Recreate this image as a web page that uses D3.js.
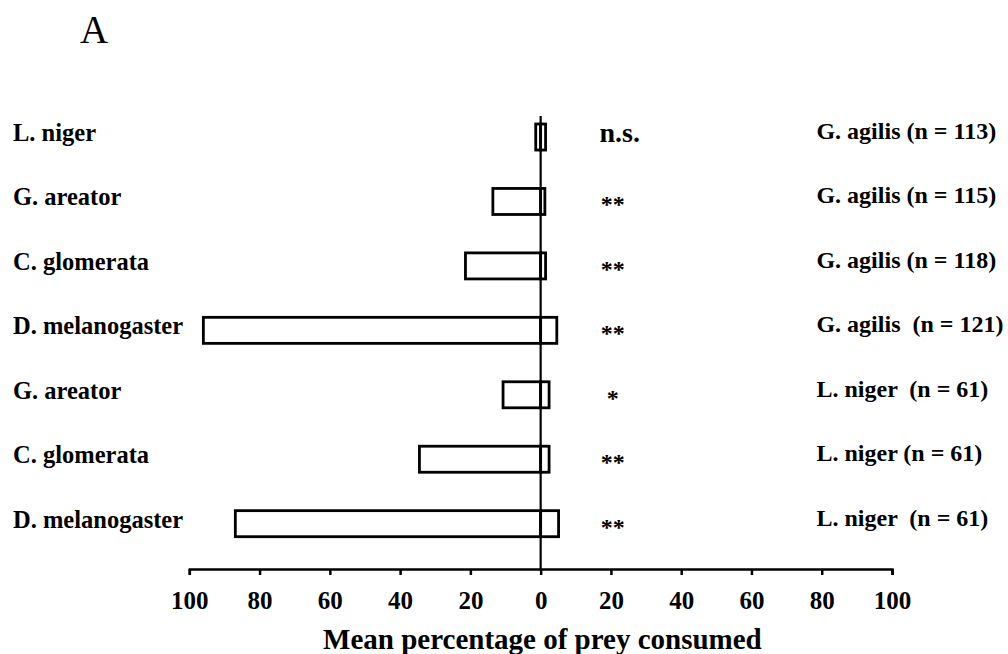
<!DOCTYPE html>
<html>
<head>
<meta charset="utf-8">
<script src="https://cdn.jsdelivr.net/npm/d3@7"></script>
<style>
  body { margin: 0; background: #fff; }
  svg text { font-family: "Liberation Serif", "Times New Roman", serif; fill: #000; }
</style>
</head>
<body>
<svg id="graph"></svg>
<script>
// prey offered (left labels) and predator (right labels), top to bottom
var prey = ["L. niger", "G. areator", "C. glomerata", "D. melanogaster", "G. areator", "C. glomerata", "D. melanogaster"];
var predators = ["G. agilis ", "G. agilis ", "G. agilis ", "G. agilis  ", "L. niger  ", "L. niger ", "L. niger  "];
var sampleSizes = [113, 115, 118, 121, 61, 61, 61];
// mean % consumed, drawn to the left / right of zero
var leftValues = [1.4, 13.6, 21.4, 96.0, 10.7, 34.5, 86.9];
var rightValues = [1.4, 1.2, 1.4, 4.6, 2.4, 2.4, 5.1];
var significance = ["n.s.", "**", "**", "**", "*", "**", "**"];
var tickValues = [-100, -80, -60, -40, -20, 0, 20, 40, 60, 80, 100];

function drawChart() {
    var width = 1008, height = 654;
    var svg = d3.select("#graph")
        .attr("width", width)
        .attr("height", height);

    var x = d3.scaleLinear()
        .domain([-100, 100])
        .range([189.3, 892]);

    var y = d3.scaleBand()
        .domain(d3.range(prey.length))
        .range([104.8, 555.9])
        .paddingInner(0.596)
        .paddingOuter(0.298);

    var axisY = 569;

    // panel letter
    svg.append("text")
        .attr("x", 80)
        .attr("y", 43)
        .attr("font-size", 39)
        .text("A");

    // bars: left part and right part
    var rows = svg.selectAll("g.row")
        .data(d3.range(prey.length))
        .enter()
        .append("g")
        .attr("class", "row");

    rows.append("rect")
        .attr("x", i => x(-leftValues[i]))
        .attr("y", i => y(i))
        .attr("width", i => x(0) - x(-leftValues[i]))
        .attr("height", y.bandwidth())
        .attr("fill", "white")
        .attr("stroke", "black")
        .attr("stroke-width", 2.8);

    rows.append("rect")
        .attr("x", x(0))
        .attr("y", i => y(i))
        .attr("width", i => x(rightValues[i]) - x(0))
        .attr("height", y.bandwidth())
        .attr("fill", "white")
        .attr("stroke", "black")
        .attr("stroke-width", 2.8);

    // central line
    svg.append("line")
        .attr("x1", x(0)).attr("x2", x(0))
        .attr("y1", 116).attr("y2", axisY)
        .attr("stroke", "black")
        .attr("stroke-width", 2.2);

    // left labels (prey)
    rows.append("text")
        .attr("x", 13)
        .attr("y", i => y(i) + y.bandwidth() / 2 + 4)
        .attr("font-size", 24.5)
        .attr("font-weight", "bold")
        .text(i => prey[i]);

    // significance
    rows.append("text")
        .attr("x", i => significance[i] == "n.s." ? x(22.5) : x(20.5))
        .attr("y", i => y(i) + y.bandwidth() / 2 + (significance[i] == "n.s." ? 5 : 11))
        .attr("text-anchor", "middle")
        .attr("font-size", i => significance[i] == "n.s." ? 28 : 24)
        .attr("font-weight", "bold")
        .text(i => significance[i]);

    // right labels (predator)
    rows.append("text")
        .attr("x", x(78.5))
        .attr("y", i => y(i) + y.bandwidth() / 2 + 2)
        .attr("font-size", 24)
        .attr("font-weight", "bold")
        .style("white-space", "pre")
        .text(i => predators[i] + "(n = " + sampleSizes[i] + ")");

    // x axis
    var axis = d3.axisBottom(x)
        .tickValues(tickValues)
        .tickFormat(d => Math.abs(d))
        .tickSize(6)
        .tickSizeOuter(6)
        .tickPadding(16);

    var ga = svg.append("g")
        .attr("transform", "translate(0," + axisY + ")")
        .call(axis);
    ga.select(".domain").attr("stroke-width", 2.5);
    ga.selectAll(".tick line").attr("stroke-width", 2.5);
    ga.selectAll(".tick text")
        .attr("font-size", 25)
        .attr("font-weight", "bold")
        .attr("fill", "black");

    svg.append("text")
        .attr("x", x(0.5))
        .attr("y", 649)
        .attr("text-anchor", "middle")
        .attr("font-size", 29)
        .attr("font-weight", "bold")
        .text("Mean percentage of prey consumed");
}

drawChart();
</script>
</body>
</html>
